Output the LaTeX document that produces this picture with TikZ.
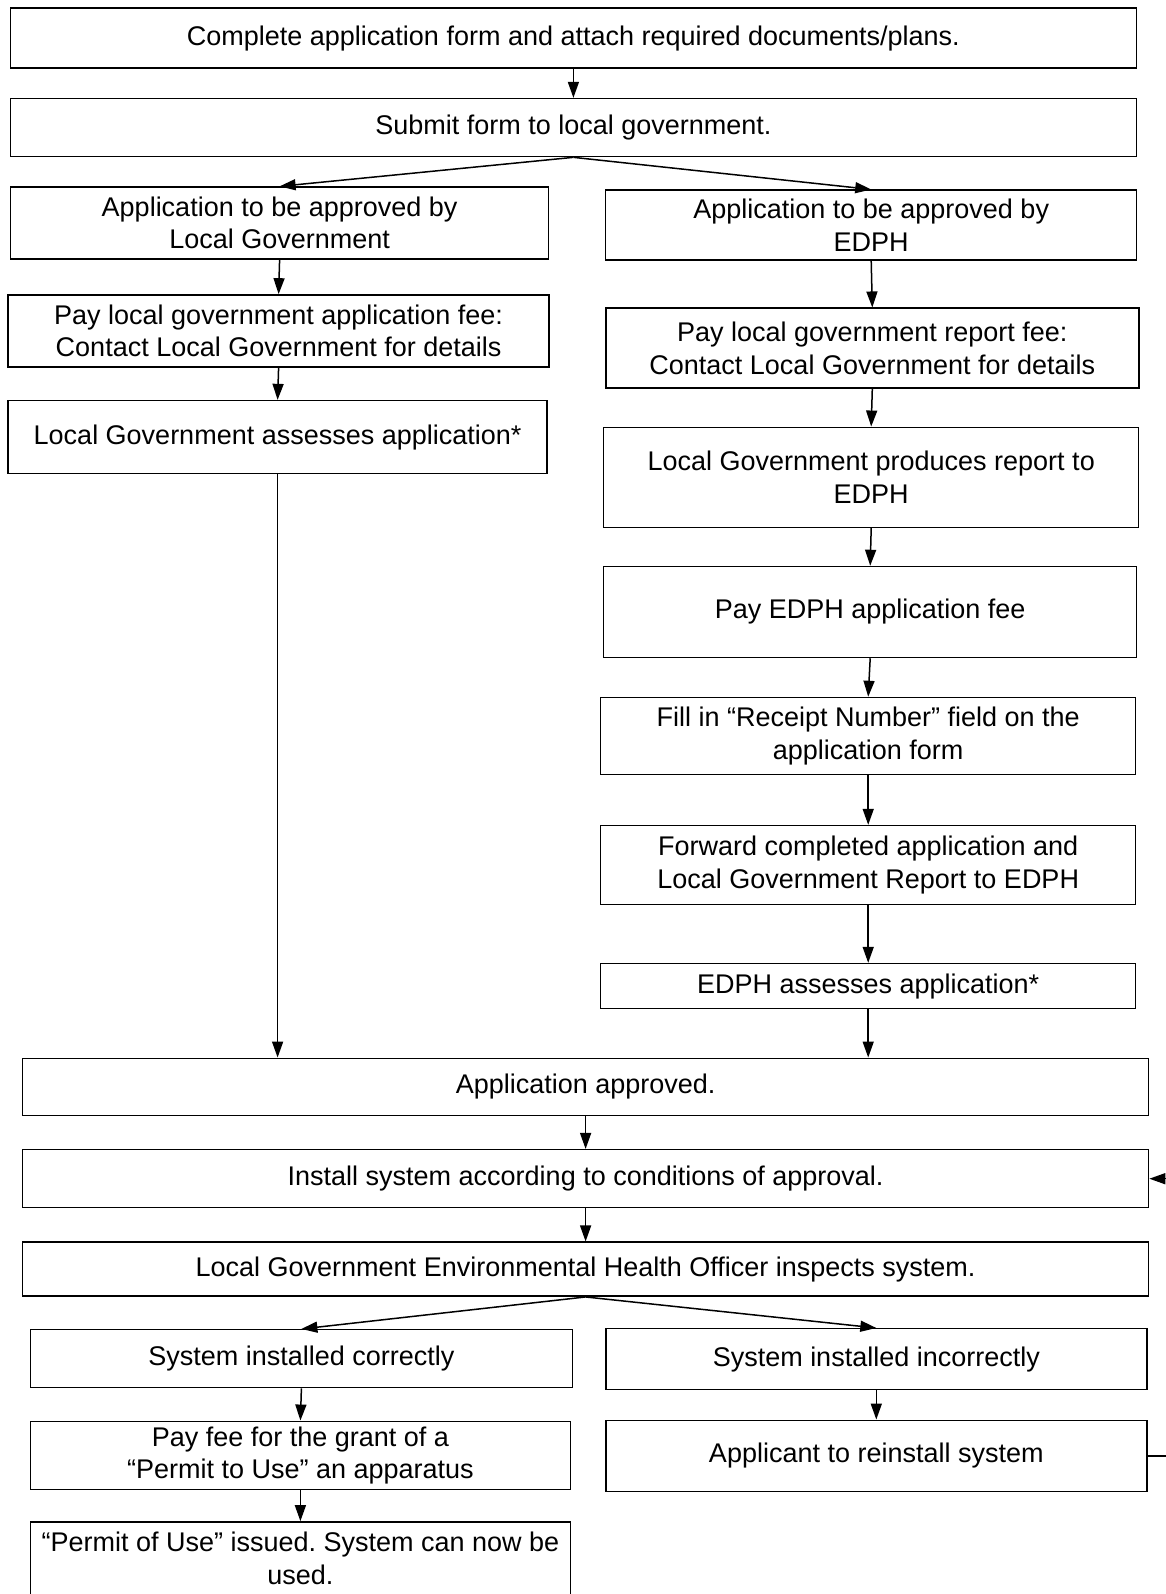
\documentclass[tikz,border=0pt]{standalone}
\usepackage{fontspec}
\setmainfont{Liberation Sans}
\usetikzlibrary{arrows.meta, positioning, calc}

\begin{document}
\begin{tikzpicture}[
  x=1pt, y=-1pt,
  stepbox/.style = {rectangle, draw=black, line width=1.5pt,
                    align=center, inner sep=0pt,
                    font=\fontsize{27}{32.5}\selectfont},
  wide/.style    = {stepbox, minimum width=1126pt},
  half/.style    = {stepbox, minimum width=#1},
  half/.default  = 538pt,
  arr/.style     = {-{Triangle[length=16pt, width=11pt]}, line width=1.5pt},
]
\useasboundingbox (0,0) rectangle (1166,1594);

%% Common start
\node[wide, minimum height=60pt] (n1) at (573.4,38.1)
  {Complete application form and attach required documents/plans.};
\node[wide, minimum height=58pt] (n2) at (573.4,127.6)
  {Submit form to local government.};

%% Left column
\node[half, minimum height=72pt] (n3) at (279.6,223.1)
  {Application to be approved by\\Local Government};
\node[half=541pt, minimum height=72pt] (n5) at (278.6,330.9)
  {Pay local government application fee:\\Contact Local Government for details};
\node[half=539pt, minimum height=73pt] (n7) at (277.6,437.1)
  {Local Government assesses application*};

%% Right column
\node[half=531pt, minimum height=70pt] (n4) at (871.2,225.2)
  {Application to be approved by\\EDPH};
\node[half=533pt, minimum height=80pt] (n6) at (872.3,348.2)
  {Pay local government report fee:\\Contact Local Government for details};
\node[half=535pt, minimum height=100pt] (n8) at (871.2,477.3)
  {Local Government produces report to\\EDPH};
\node[half=533pt, minimum height=91pt] (n9) at (870.2,612)
  {Pay EDPH application fee};
\node[half=535pt, minimum height=77pt] (n10) at (868.2,736)
  {Fill in ``Receipt Number'' field on the\\application form};
\node[half=535pt, minimum height=79pt] (n11) at (868.2,865.1)
  {Forward completed application and\\Local Government Report to EDPH};
\node[half=535pt, minimum height=45pt] (n12) at (868.2,986.1)
  {EDPH assesses application*};

%% Approval and installation
\node[wide, minimum height=57pt] (n13) at (585.6,1086.8)
  {Application approved.};
\node[wide, minimum height=58pt] (n14) at (585.6,1178.7)
  {Install system according to conditions of approval.};
\node[wide, minimum height=54pt] (n15) at (585.6,1269.2)
  {Local Government Environmental Health Officer inspects system.};

%% Outcomes
\node[half=542pt, minimum height=58pt] (n16) at (301.4,1358.7)
  {System installed correctly};
\node[half=541pt, minimum height=61pt] (n17) at (876.3,1359.2)
  {System installed incorrectly};
\node[half=540pt, minimum height=68pt] (n18) at (300.4,1455.3)
  {Pay fee for the grant of a\\``Permit to Use'' an apparatus};
\node[half=541pt, minimum height=71pt] (n19) at (876.3,1455.8)
  {Applicant to reinstall system};
\node[half=540pt, minimum height=73pt] (n20) at (300.4,1558.4)
  {``Permit of Use'' issued.\ System can now be\\used.};

\coordinate (loop) at (1185,0);

%% Connecting arrows
\foreach \a/\b in {n1/n2, n2/n3, n2/n4, n3/n5, n5/n7, n4/n6, n6/n8, n8/n9,
                   n9/n10, n10/n11, n11/n12, n13/n14, n14/n15, n15/n16,
                   n15/n17, n16/n18, n18/n20, n17/n19}
  \draw[arr] (\a.south) -- (\b.north);
\draw[arr] (n7.south) -- (n7.south |- n13.north);
\draw[arr] (n12.south) -- (n12.south |- n13.north);

%% Reinstall loop
\draw[arr] (n19.east) -- (n19.east -| loop) -- (n14.east -| loop) -- (n14.east);

\end{tikzpicture}
\end{document}
